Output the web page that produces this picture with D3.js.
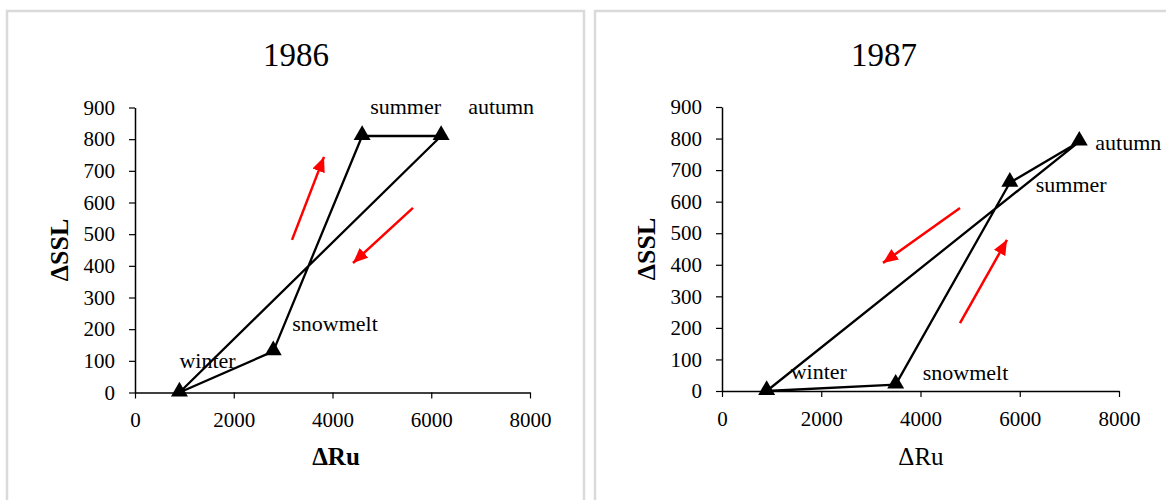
<!DOCTYPE html>
<html>
<head>
<meta charset="utf-8">
<script src="https://cdn.jsdelivr.net/npm/d3@7"></script>
<style>
  html, body { margin: 0; padding: 0; background: #fff; }
  text { font-family: "Liberation Serif", "Times New Roman", serif; fill: #000; }
</style>
</head>
<body>
<div id="chart"></div>
<script>
// 1. Data
const seasons = ["winter", "snowmelt", "summer", "autumn"];
const ru1986 = [900, 2800, 4600, 6200];
const ssl1986 = [0, 130, 810, 810];
const ru1987 = [900, 3500, 5800, 7200];
const ssl1987 = [0, 20, 660, 790];

const xTicks = [0, 2000, 4000, 6000, 8000];
const yTicks = [0, 100, 200, 300, 400, 500, 600, 700, 800, 900];

// direction arrows, [from, to] in data units
const arrows1986 = [[[3180, 482], [3828, 744]], [[5630, 583], [4415, 409]]];
const arrows1987 = [[[4796, 580], [3244, 406]], [[4796, 215], [5743, 479]]];

// 2. Panel layout
const panels = [
    { title: "1986", ru: ru1986, ssl: ssl1986, arrows: arrows1986, boldX: true,
      box: [7, 11, 577], xRange: [135, 530], yRange: [392.5, 107.5], titleX: 296, ruX: 336,
      labelOff: { winter: [0, -25], snowmelt: [19, -20], summer: [8, -22], autumn: [27, -22] } },
    { title: "1987", ru: ru1987, ssl: ssl1987, arrows: arrows1987, boldX: false,
      box: [595, 11, 600], xRange: [722, 1119], yRange: [391, 107], titleX: 884, ruX: 921,
      labelOff: { winter: [24, -12], snowmelt: [27, -5], summer: [26, 9], autumn: [16, 8] } }
];

const width = 1166, height = 500;
const svg = d3.select("#chart").append("svg")
    .attr("width", width)
    .attr("height", height);

// red arrowhead
svg.append("defs").append("marker")
    .attr("id", "arrowhead")
    .attr("markerUnits", "userSpaceOnUse")
    .attr("markerWidth", 16)
    .attr("markerHeight", 14)
    .attr("refX", 15)
    .attr("refY", 6.5)
    .attr("orient", "auto")
  .append("path")
    .attr("d", "M0,0 L15,6.5 L0,13 Z")
    .attr("fill", "#ff0000");

// 3. Draw each panel
panels.forEach(p => {
    const g = svg.append("g");

    // light grey frame
    g.append("rect")
        .attr("x", p.box[0])
        .attr("y", p.box[1])
        .attr("width", p.box[2])
        .attr("height", 600)
        .attr("fill", "none")
        .attr("stroke", "#dadada")
        .attr("stroke-width", 2.5);

    const x = d3.scaleLinear().domain([0, 8000]).range(p.xRange);
    const y = d3.scaleLinear().domain([0, 900]).range(p.yRange);

    // axes
    const xAxis = g.append("g")
        .attr("transform", `translate(0,${y(0)})`)
        .call(d3.axisBottom(x).tickValues(xTicks).tickFormat(d3.format("d"))
            .tickSize(6).tickSizeOuter(0).tickPadding(14));
    const yAxis = g.append("g")
        .attr("transform", `translate(${x(0)},0)`)
        .call(d3.axisLeft(y).tickValues(yTicks).tickFormat(d3.format("d"))
            .tickSize(6).tickSizeOuter(0).tickPadding(14));

    [xAxis, yAxis].forEach(a => {
        a.select(".domain").attr("stroke", "#000").attr("stroke-width", 1.5);
        a.selectAll(".tick line").attr("stroke", "#000").attr("stroke-width", 1.2);
        a.selectAll(".tick text")
            .attr("font-family", "Liberation Serif")
            .attr("font-size", 21)
            .attr("fill", "#000");
    });

    // title and axis names
    g.append("text")
        .attr("x", p.titleX)
        .attr("y", 66)
        .attr("text-anchor", "middle")
        .attr("font-size", 33)
        .text(p.title);

    g.append("text")
        .attr("x", p.ruX)
        .attr("y", 465)
        .attr("text-anchor", "middle")
        .attr("font-size", 25)
        .attr("font-weight", p.boldX ? "bold" : "normal")
        .text("ΔRu");

    g.append("text")
        .attr("transform", `translate(${x(0) - 67},${(y(0) + y(900)) / 2}) rotate(-90)`)
        .attr("text-anchor", "middle")
        .attr("font-size", 26)
        .attr("font-weight", "bold")
        .text("ΔSSL");

    const pts = seasons.map((s, i) => ({ season: s, ru: p.ru[i], ssl: p.ssl[i] }));

    // season labels (behind the lines, as in the original)
    g.selectAll(".season")
        .data(pts)
        .join("text")
        .attr("class", "season")
        .attr("x", d => x(d.ru) + p.labelOff[d.season][0])
        .attr("y", d => y(d.ssl) + p.labelOff[d.season][1])
        .attr("font-size", 22)
        .text(d => d.season);

    // closed loop winter -> snowmelt -> summer -> autumn -> winter
    const line = d3.line().x(d => x(d.ru)).y(d => y(d.ssl));
    g.append("path")
        .attr("d", line(pts.concat([pts[0]])))
        .attr("fill", "none")
        .attr("stroke", "#000")
        .attr("stroke-width", 2.3)
        .attr("stroke-linejoin", "round");

    g.selectAll(".marker")
        .data(pts)
        .join("path")
        .attr("class", "marker")
        .attr("transform", d => `translate(${x(d.ru)},${y(d.ssl) - 1})`)
        .attr("d", d3.symbol().type(d3.symbolTriangle).size(125))
        .attr("fill", "#000");

    // red direction arrows
    g.selectAll(".arrow")
        .data(p.arrows)
        .join("line")
        .attr("class", "arrow")
        .attr("x1", d => x(d[0][0]))
        .attr("y1", d => y(d[0][1]))
        .attr("x2", d => x(d[1][0]))
        .attr("y2", d => y(d[1][1]))
        .attr("stroke", "#ff0000")
        .attr("stroke-width", 2.5)
        .attr("marker-end", "url(#arrowhead)");
});
</script>
</body>
</html>
